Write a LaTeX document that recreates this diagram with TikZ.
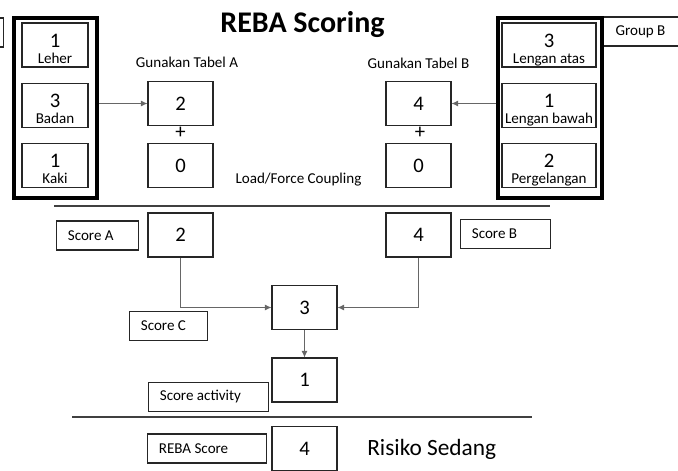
\documentclass[tikz,border=0pt]{standalone}
\usepackage{fontspec}
\setmainfont{Carlito}
\usetikzlibrary{positioning, arrows.meta}

\newcommand{\numfont}{\fontsize{15.5}{18}\selectfont}
\newcommand{\notefont}{\fontsize{11.3}{13}\selectfont}

\tikzset{
  part/.style={draw=black!85, line width=0.8pt, minimum height=33pt, inner sep=0pt},
  grp/.style={draw=black, line width=2.6pt, minimum width=#1, minimum height=135pt, inner sep=0pt},
  valbox/.style={draw=black!85, line width=0.8pt, minimum width=48.75pt, minimum height=33pt, inner sep=0pt, font=\numfont},
  scorebox/.style={draw=black!85, line width=0.8pt, text width=#1, inner xsep=8.5pt, inner ysep=0pt, minimum height=21.75pt, align=flush left, font=\notefont},
  num/.style={inner sep=0pt, font=\numfont},
  note/.style={inner sep=0pt, font=\notefont},
  conn/.style={draw=black!60, line width=0.6pt, -{Latex[length=5pt,width=4.5pt]}},
  rule/.style={draw=black!75, line width=2.2pt}
}

\begin{document}
\begin{tikzpicture}[x=0.75pt, y=-0.75pt]
  \useasboundingbox (0,0) rectangle (678,471);

  \node [font=\fontsize{22.5}{26}\selectfont\bfseries, anchor=base, inner sep=0pt] (title) at (302.5,32) {REBA Scoring};

  % group A
  \node [scorebox=60pt, anchor=east] (grpAtag) at (4,32.5) {};
  \node [grp=62.25pt] (grpA) at (55.5,108) {};
  \node [part, minimum width=49.5pt] (leher) at (55,45) {};
  \node [part, minimum width=49.5pt, below=11.25pt of leher] (badan) {};
  \node [part, minimum width=49.5pt, below=11.25pt of badan] (kaki) {};
  \node [num, anchor=base] (leherv) at ([yshift=-19pt]leher.north) {1};
  \node [note, anchor=base] (lehert) at ([yshift=-30.5pt]leher.north) {Leher};
  \node [num, anchor=base] (badanv) at ([yshift=-19pt]badan.north) {3};
  \node [note, anchor=base] (badant) at ([yshift=-30.5pt]badan.north) {Badan};
  \node [num, anchor=base] (kakiv) at ([yshift=-19pt]kaki.north) {1};
  \node [note, anchor=base] (kakit) at ([yshift=-30.5pt]kaki.north) {Kaki};

  % group B
  \node [scorebox=80pt, anchor=west, inner xsep=9pt] (grpBtag) at (603,31.5) {Group B};
  \node [grp=78pt] (grpB) at (550,108) {};
  \node [part, minimum width=70.5pt] (atas) at (549,45) {};
  \node [part, minimum width=70.5pt, below=11.25pt of atas] (bawah) {};
  \node [part, minimum width=70.5pt, below=11.25pt of bawah] (gelang) {};
  \node [num, anchor=base] (atasv) at ([yshift=-19pt]atas.north) {3};
  \node [note, anchor=base] (atast) at ([yshift=-30.5pt]atas.north) {Lengan atas};
  \node [num, anchor=base] (bawahv) at ([yshift=-19pt]bawah.north) {1};
  \node [note, anchor=base] (bawaht) at ([yshift=-30.5pt]bawah.north) {Lengan bawah};
  \node [num, anchor=base] (gelangv) at ([yshift=-19pt]gelang.north) {2};
  \node [note, anchor=base] (gelangt) at ([yshift=-30.5pt]gelang.north) {Pergelangan};

  % tables
  \node [note, anchor=base] (tabAt) at (187,67) {Gunakan Tabel A};
  \node [note, anchor=base] (tabBt) at (418.5,68) {Gunakan Tabel B};
  \node [valbox] (tabA) at (180.5,103.5) {2};
  \node [valbox, below=12.75pt of tabA] (loadA) {0};
  \node [valbox] (tabB) at (418.5,103.5) {4};
  \node [valbox, below=12.75pt of tabB] (loadB) {0};
  \node [num] (plusA) at (180.5,133) {+};
  \node [num] (plusB) at (420,133) {+};
  \node [note, anchor=base] (load) at (298.5,183) {Load/Force Coupling};

  \draw [conn] (grpA.east |- tabA) -- (tabA);
  \draw [conn] (grpB.west |- tabB) -- (tabB);

  \draw [rule] (54,206) -- (550,206);

  % scores
  \node [valbox] (scoreA) at (180.5,235) {2};
  \node [valbox] (scoreB) at (418.5,235) {4};
  \node [valbox] (scoreC) at (304.5,307.5) {3};
  \node [valbox] (activity) at (304.5,380) {1};
  \node [scorebox=44.5pt, anchor=west] (scoreAt) at (56,235.5) {Score A};
  \node [scorebox=50.5pt, anchor=west] (scoreBt) at (460,234) {Score B};
  \node [scorebox=41.5pt, anchor=west] (scoreCt) at (129,326) {Score C};
  \node [scorebox=73pt, anchor=west] (activityt) at (148,397) {Score activity};

  \draw [conn] (scoreA.south) |- (scoreC.west);
  \draw [conn] (scoreB.south) |- (scoreC.east);
  \draw [conn] (scoreC) -- (activity);

  \draw [rule] (72,417) -- (532,417);

  \node [valbox] (reba) at (304.5,448.5) {4};
  \node [scorebox=72.25pt, anchor=west] (rebat) at (147,448.5) {REBA Score};
  \node [anchor=base west, inner sep=0pt, font=\fontsize{17.5}{20}\selectfont] (risk) at (367,455) {Risiko Sedang};
\end{tikzpicture}
\end{document}
